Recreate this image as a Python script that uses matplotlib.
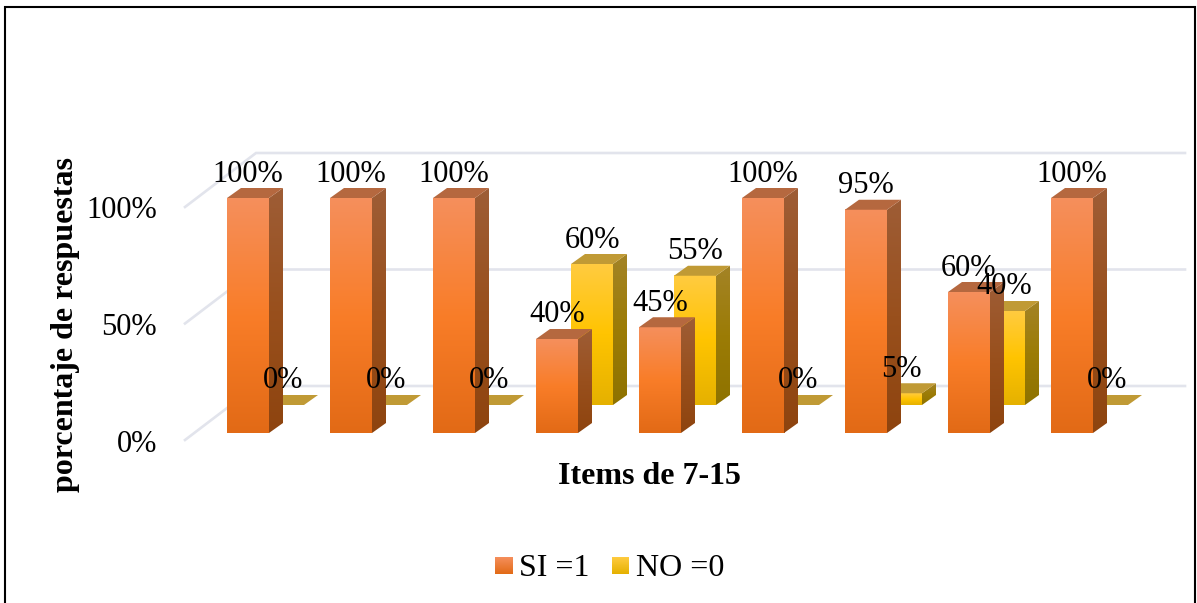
import numpy as np
import matplotlib
matplotlib.use('Agg')
import matplotlib.pyplot as plt
from matplotlib.colors import LinearSegmentedColormap
from matplotlib.patches import Polygon, Rectangle

items = ['7', '8', '9', '10', '11', '12', '13', '14', '15']
si_values = [100, 100, 100, 40, 45, 100, 95, 60, 100]
no_values = [0, 0, 0, 60, 55, 0, 5, 40, 0]
y_ticks = [0, 50, 100]

plt.rcParams['font.family'] = ['Liberation Serif', 'DejaVu Serif']

W, H = 1197, 603
STEP = 103.0        # px per category
SCALE = 2.35        # px per percent
X0, Y0 = 248.0, 433.0   # centre of first front bar, base line
FS = 23
FS_NUM = 22

fig = plt.figure(figsize=(W / 100, H / 100), dpi=100)
ax = fig.add_axes([0, 0, 1, 1])
ax.axis('off')


def px(x):
    return (x - X0) / STEP


def py(y):
    return (Y0 - y) / SCALE


BAR_W = 42 / STEP
DX, DY = 14 / STEP, 10 / SCALE      # depth of one bar
ROW_X, ROW_Y = 35 / STEP, 28 / SCALE    # back row shift

si_cols = dict(front=['#F58F5C', '#F97D28', '#E26A16'], side=['#9E5D36', '#99501D', '#8E440F'], top='#B5683F')
no_cols = dict(front=['#FFCB40', '#FFC400', '#E5B100'], side=['#A38326', '#9C7C06', '#8E7200'], top='#C09A35')


def gradient(extent, colors, clip=None, z=2):
    cmap = LinearSegmentedColormap.from_list('g', colors)
    g = np.linspace(0, 1, 128).reshape(-1, 1)
    im = ax.imshow(g, cmap=cmap, extent=extent, aspect='auto', origin='upper', zorder=z,
                   interpolation='bilinear')
    if clip is not None:
        im.set_clip_path(clip)
    return im


def bar3d(x, base, value, cols, z):
    left, right = x - BAR_W / 2, x + BAR_W / 2
    top = base + value
    if value > 0:
        gradient((left, right, base, top), cols['front'], z=z)
        side = Polygon([(right, base), (right + DX, base + DY), (right + DX, top + DY), (right, top)],
                       transform=ax.transData, fc='none', ec='none')
        ax.add_patch(side)
        gradient((right, right + DX, base, top + DY), cols['side'], clip=side, z=z)
    ax.add_patch(Polygon([(left, top), (right, top), (right + DX, top + DY), (left + DX, top + DY)],
                         fc=cols['top'], ec='none', zorder=z))


# walls and grid lines
grid_c = '#E2E4EC'
for t in y_ticks:
    wall_y = [py(440) + t * 233 / 235, py(386) + t * 233 / 235]
    ax.plot([px(185), px(256), px(1185)], [wall_y[0], wall_y[1], wall_y[1]],
            color=grid_c, lw=1.9, zorder=1, solid_joinstyle='miter')
    ax.text(px(157), wall_y[0] - 4 / SCALE, f'{t}%', ha='right', va='center', fontsize=FS_NUM, color='black', zorder=6)

# back row first so the front row hides it
for i, v in enumerate(no_values):
    bar3d(i + ROW_X, ROW_Y, v, no_cols, 3)
for i, v in enumerate(si_values):
    bar3d(i, 0, v, si_cols, 4)

LABEL_UP = 24 / SCALE
for i, v in enumerate(si_values):
    ax.text(i, v + LABEL_UP, f'{v}%', ha='center', va='center', fontsize=FS_NUM, zorder=6)
for i, v in enumerate(no_values):
    ax.text(i + ROW_X, ROW_Y + v + LABEL_UP, f'{v}%', ha='center', va='center', fontsize=FS_NUM, zorder=6)

ax.text(px(649.5), py(476), 'Items de 7-15', ha='center', va='center', fontsize=FS, fontweight='bold')
ax.text(px(66), py(324), 'porcentaje de respuestas', ha='center', va='center', rotation=90,
        fontsize=FS, fontweight='bold')

# legend
for x_sq, cols in [(495, si_cols), (612, no_cols)]:
    gradient((px(x_sq), px(x_sq + 17), py(574), py(557)), [cols['front'][0], cols['front'][2]], z=5)
ax.text(px(519), py(568), 'SI =1', ha='left', va='center', fontsize=FS)
ax.text(px(636), py(568), 'NO =0', ha='left', va='center', fontsize=FS)

ax.set_xlim((0 - X0) / STEP, (W - X0) / STEP)
ax.set_ylim((Y0 - H) / SCALE, Y0 / SCALE)

# chart frame, runs off the bottom of the picture
fig.add_artist(Rectangle((4.5 / W, -0.02), (1190.5) / W, 1.02 - 7.5 / H, transform=fig.transFigure,
                         fc='none', ec='black', lw=1.5))

fig.savefig('out.png', dpi=100)
